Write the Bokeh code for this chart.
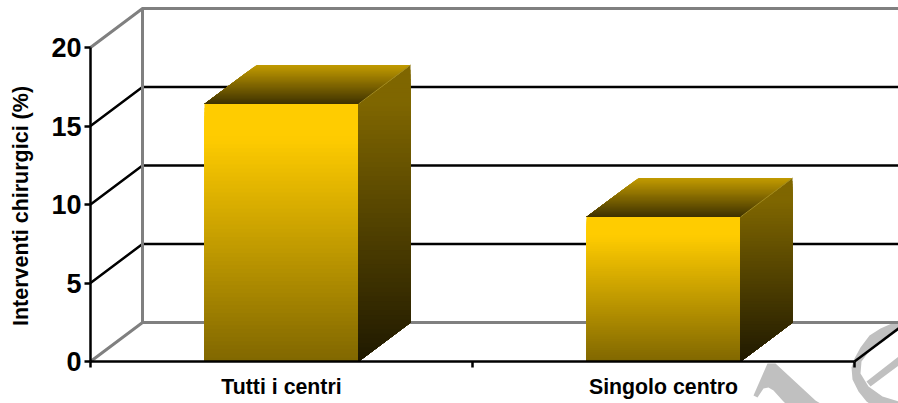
import math

from bokeh.core.properties import value as fixed
from bokeh.embed import file_html
from bokeh.models import FixedTicker, PolyAnnotation, Range1d
from bokeh.plotting import figure
from bokeh.resources import INLINE

# Chart values
categories = ["Tutti i centri", "Singolo centro"]
values = [16.4, 9.2]
y_ticks = [0, 5, 10, 15, 20]
y_title = "Interventi chirurgici (%)"

# Layout of the pseudo-3D projection
WIDTH, HEIGHT = 898, 403
LEFT, BOTTOM = 90, 42
PX_PER_CAT = 382.0
PX_PER_UNIT = 15.7
DX = 52 / PX_PER_CAT        # depth offset, category units
DY = 39 / PX_PER_UNIT       # depth offset, value units
BAR_WIDTH = 154 / PX_PER_CAT
STEPS = 64

GREY = "#808080"
BLACK = "#000000"
WATERMARK = "#c0c0c0"
FONT = "Liberation Sans"

FRONT_STOPS = ((255, 204, 0), (255, 204, 0), (127, 102, 0))
SIDE_STOPS = ((127, 102, 0), (127, 102, 0), (30, 24, 0))
TOP_STOPS = ((191, 153, 0), (178, 142, 0), (60, 48, 0))


def shade(stops, t):
    """Colour at position t (0 = first stop, 1 = last) of a three-stop ramp."""
    pos = min(max(t, 0.0), 1.0)
    if pos < 0.12:
        a, b, f = stops[0], stops[1], pos / 0.12
    else:
        a, b, f = stops[1], stops[2], (pos - 0.12) / 0.88
    return "#%02x%02x%02x" % tuple(round(a[i] + (b[i] - a[i]) * f) for i in range(3))


def clip_below(points, level):
    """Keep the part of a polygon lying at or below a horizontal level."""
    out = []
    for i, (x0, y0) in enumerate(points):
        x1, y1 = points[(i + 1) % len(points)]
        if y0 <= level:
            out.append((x0, y0))
        if (y0 <= level) != (y1 <= level):
            out.append((x0 + (level - y0) / (y1 - y0) * (x1 - x0), level))
    return out


# The plot area fills the whole canvas; the axes are pinned at the data origin
p = figure(
    width=WIDTH, height=HEIGHT, output_backend="svg", toolbar_location=None,
    x_range=Range1d(-LEFT / PX_PER_CAT, (WIDTH - LEFT) / PX_PER_CAT),
    y_range=Range1d(-BOTTOM / PX_PER_UNIT, (HEIGHT - BOTTOM) / PX_PER_UNIT),
    min_border_left=0, min_border_right=0, min_border_top=0, min_border_bottom=0,
    outline_line_color=None, background_fill_color="white", border_fill_color="white",
)
p.grid.visible = False

# Faint mark printed across the lower right corner
watermark_shapes = [
    ([767, 775, 815, 820, 785, 782, 773, 768, 763, 757, 753],
     [363, 363, 400, 403, 403, 400, 390, 387, 388, 397, 395]),
    ([898, 880, 869, 860, 854, 851, 852, 858, 866, 869, 898, 898, 882, 868, 860, 861, 867, 880, 898],
     [320, 328, 335, 347, 358, 367, 379, 391, 401, 403, 403, 401, 396, 386, 373, 361, 353, 340, 330]),
    ([866, 898, 898, 870], [381, 356, 365, 386]),
]
for xs, ys in watermark_shapes:
    p.add_layout(PolyAnnotation(xs=xs, ys=ys, xs_units="canvas", ys_units="canvas",
                                fill_color=WATERMARK, fill_alpha=1, line_color=None,
                                level="underlay"))

# Walls and floor behind the bars
x_end = (WIDTH - LEFT) / PX_PER_CAT
top_value = y_ticks[-1]
for tick in y_ticks:
    is_edge = tick in (y_ticks[0], y_ticks[-1])
    p.line([0, DX, x_end], [tick, tick + DY, tick + DY], line_color=GREY if is_edge else BLACK,
           line_width=3 if is_edge else 2.5, line_join="miter")
p.line([DX, DX], [DY, top_value + DY], line_color=GREY, line_width=3)
p.line([len(categories), len(categories) + DX], [0, DY], line_color=BLACK, line_width=2.5)

# Bars: each gradient is painted as nested bands, darker ones over lighter ones
for index, bar_value in enumerate(values):
    centre = index + 0.5
    x0, x1 = centre - BAR_WIDTH / 2, centre + BAR_WIDTH / 2

    for s in range(STEPS):
        t = s / STEPS
        level = bar_value * (1 - t)
        p.quad(left=x0, right=x1, bottom=0, top=level, fill_color=shade(FRONT_STOPS, t),
               line_color=None)

    side = [(x1, 0), (x1 + DX, DY), (x1 + DX, bar_value + DY), (x1, bar_value)]
    for s in range(STEPS):
        t = s / STEPS
        piece = clip_below(side, (bar_value + DY) * (1 - t))
        if len(piece) >= 3:
            p.patch([q[0] for q in piece], [q[1] for q in piece],
                    fill_color=shade(SIDE_STOPS, t), line_color=None)

    roof = [(x0, bar_value), (x1, bar_value), (x1 + DX, bar_value + DY), (x0 + DX, bar_value + DY)]
    for s in range(STEPS // 2):
        t = s / (STEPS // 2)
        piece = clip_below(roof, bar_value + DY * (1 - t))
        p.patch([q[0] for q in piece], [q[1] for q in piece],
                fill_color=shade(TOP_STOPS, t), line_color=None)

    p.line([x1, x1 + DX], [bar_value, bar_value + DY], line_color="#a08a20", line_width=1)

# Axes
yaxis = p.yaxis[0]
yaxis.fixed_location = 0
yaxis.ticker = FixedTicker(ticks=y_ticks)
yaxis.bounds = (y_ticks[0], y_ticks[-1])
yaxis.axis_line_color = BLACK
yaxis.axis_line_width = 2.5
yaxis.major_tick_line_color = BLACK
yaxis.major_tick_line_width = 2.5
yaxis.major_tick_in = 0
yaxis.major_tick_out = 6
yaxis.minor_tick_line_color = None
yaxis.major_label_standoff = 3
yaxis.major_label_text_font = FONT
yaxis.major_label_text_font_style = "bold"
yaxis.major_label_text_font_size = "27px"
yaxis.major_label_text_color = BLACK

# Value-axis title, left of the tick labels and level with the front plane
p.text(x=[-70 / PX_PER_CAT], y=[155.5 / PX_PER_UNIT], text=[y_title], angle=math.pi / 2,
       text_align="center", text_baseline="middle", text_font=fixed(FONT),
       text_font_style="bold", text_font_size="21.5px", text_color=BLACK)

xaxis = p.xaxis[0]
label_positions = [i + 0.5 for i in range(len(categories))]
xaxis.fixed_location = 0
xaxis.ticker = FixedTicker(ticks=label_positions, minor_ticks=list(range(len(categories) + 1)))
xaxis.major_label_overrides = dict(zip(label_positions, categories))
xaxis.bounds = (0, len(categories))
xaxis.axis_line_color = BLACK
xaxis.axis_line_width = 2.5
xaxis.major_tick_line_color = None
xaxis.major_tick_out = 0
xaxis.major_tick_in = 0
xaxis.minor_tick_line_color = BLACK
xaxis.minor_tick_line_width = 2.5
xaxis.minor_tick_in = 0
xaxis.minor_tick_out = 6
xaxis.major_label_standoff = 7
xaxis.major_label_text_font = FONT
xaxis.major_label_text_font_style = "bold"
xaxis.major_label_text_font_size = "21.3px"
xaxis.major_label_text_color = BLACK

open("out.html", "w").write(file_html(p, INLINE))
